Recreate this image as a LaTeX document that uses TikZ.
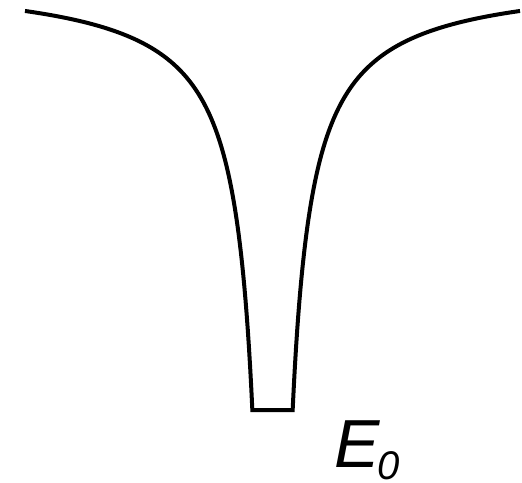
\documentclass[tikz,border=0pt]{standalone}
\usepackage{fontspec}
\setmainfont{Liberation Sans}
\usetikzlibrary{positioning}

\begin{document}
\begin{tikzpicture}[x=1pt, y=-1pt,
			curve/.style={line width=4pt, line join=miter, line cap=butt},
			lbl/.style={inner sep=0pt, anchor=base west}]
			
			\useasboundingbox (0,0) rectangle (522,482);
			
			% Potentialtopf
			\draw[curve] plot[domain=247.5:20.15, samples=200, variable=\t] ({272.5-\t},{-24.4+8755/\t})
				-- plot[domain=20.15:247.5, samples=200, variable=\t] ({272.5+\t},{-24.4+8755/\t});
			
			% Beschriftung
			\node[lbl] (e0) at (334,467) {\fontsize{68}{68}\selectfont\itshape E\kern-2pt\raisebox{-12pt}[\height][0pt]{\fontsize{40}{40}\selectfont\itshape 0}};
			
		\end{tikzpicture}
\end{document}
